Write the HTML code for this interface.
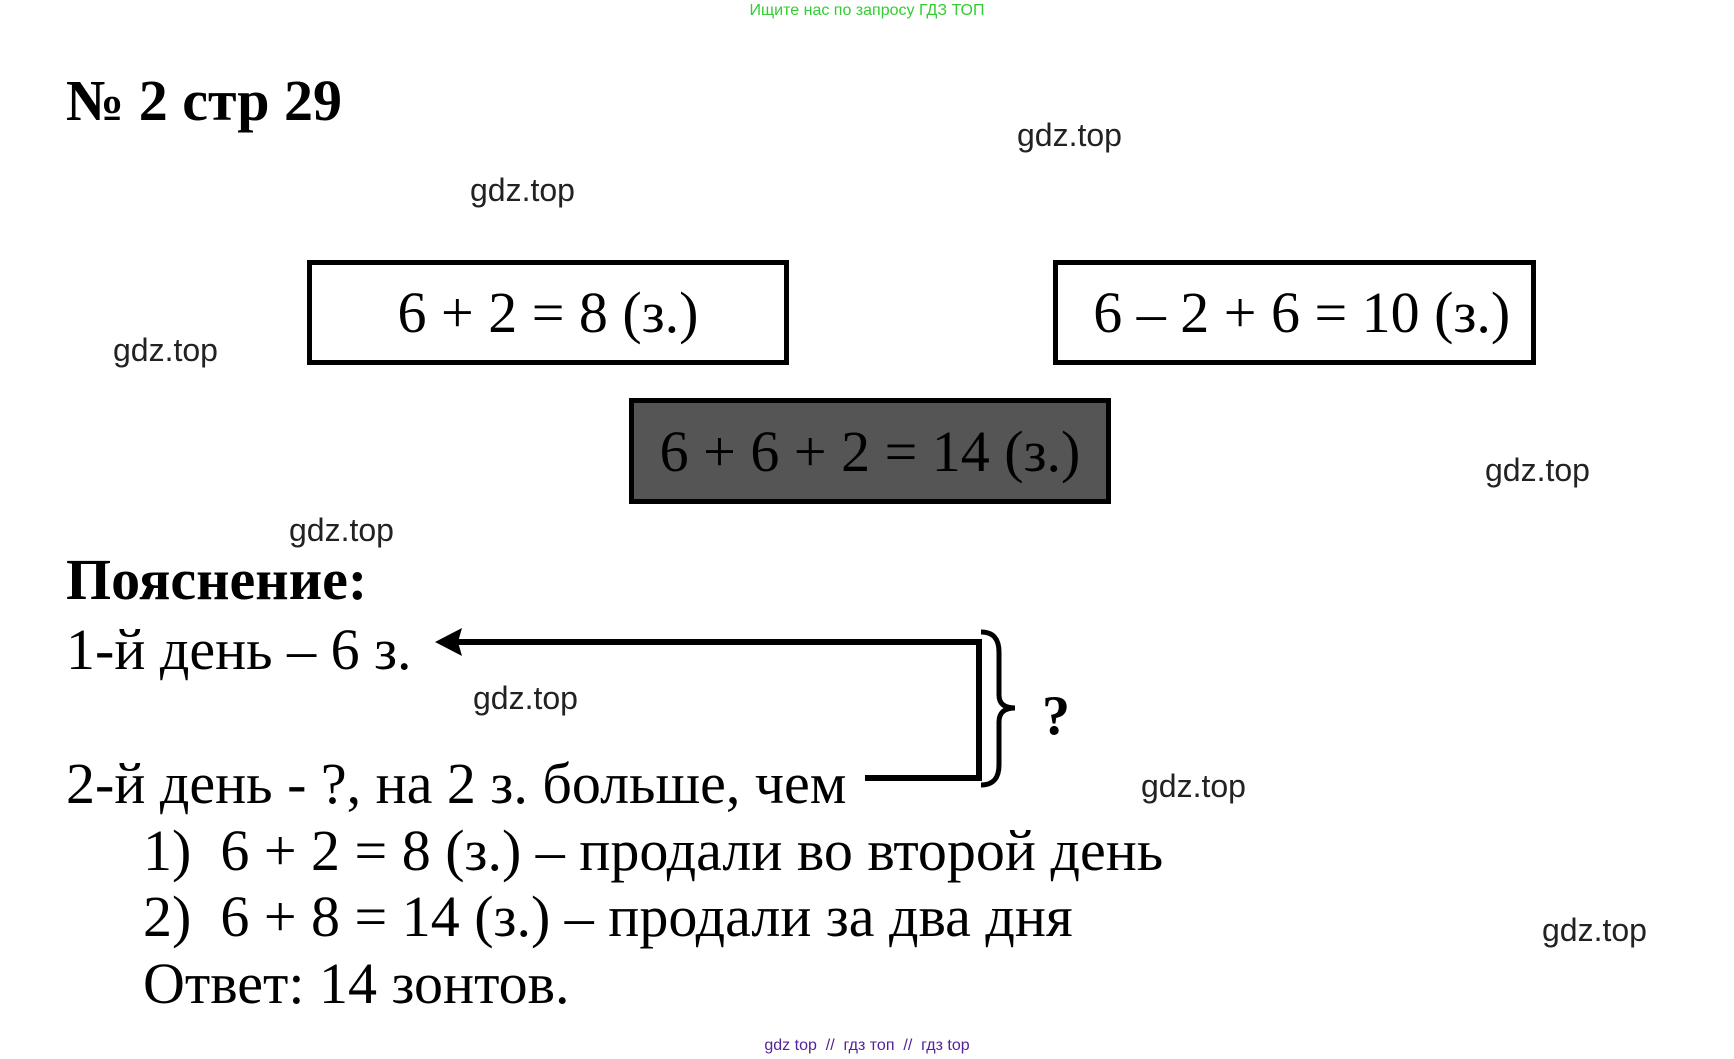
<!DOCTYPE html>
<html><head><meta charset="utf-8"><style>
body{margin:0;width:1734px;height:1059px;background:#fff;position:relative;overflow:hidden;font-family:"Liberation Serif","DejaVu Serif",serif;}
.a{position:absolute;white-space:nowrap;line-height:1;}
.g{position:absolute;font-family:"Liberation Sans",sans-serif;font-size:32px;color:#222;line-height:1;transform:translateY(-50%);}
.s{font-size:58px;transform:translateY(-50%);}
.box{position:absolute;border:5px solid #000;box-sizing:border-box;display:flex;align-items:center;justify-content:center;font-size:58px;}
</style></head><body>
<div class="a" style="left:0;width:1734px;text-align:center;top:3px;font-family:'Liberation Sans',sans-serif;font-size:16px;color:#3c3">Ищите нас по запросу ГДЗ ТОП</div>
<div class="a s" style="left:66px;top:101px;font-weight:bold;font-size:58px">№ 2 стр 29</div>
<div class="g" style="left:470px;top:190px">gdz.top</div>
<div class="g" style="left:1017px;top:135px">gdz.top</div>
<div class="g" style="left:113px;top:350px">gdz.top</div>
<div class="g" style="left:1485px;top:470px">gdz.top</div>
<div class="g" style="left:289px;top:530px">gdz.top</div>
<div class="g" style="left:473px;top:698px">gdz.top</div>
<div class="g" style="left:1141px;top:786px">gdz.top</div>
<div class="g" style="left:1542px;top:930px">gdz.top</div>
<div class="box" style="left:307px;top:260px;width:482px;height:105px">6 + 2 = 8 (з.)</div>
<div class="box" style="left:1053px;top:260px;width:483px;height:105px">&nbsp;6 – 2 + 6 = 10 (з.)</div>
<div class="box" style="left:629px;top:398px;width:482px;height:106px;background:#555">6 + 6 + 2 = 14 (з.)</div>
<div class="a s" style="left:66px;top:580px;font-weight:bold">Пояснение:</div>
<div class="a s" style="left:66px;top:650px">1-й день – 6 з.</div>
<div class="a s" style="left:66px;top:784px">2-й день - ?, на 2 з. больше, чем</div>
<div class="a s" style="left:143px;top:851px">1)&nbsp; 6 + 2 = 8 (з.) – продали во второй день</div>
<div class="a s" style="left:143px;top:917px">2)&nbsp; 6 + 8 = 14 (з.) – продали за два дня</div>
<div class="a s" style="left:143px;top:984px">Ответ: 14 зонтов.</div>
<div class="a" style="left:1042px;top:716px;transform:translateY(-50%);font-size:56px;font-weight:bold">?</div>
<svg style="position:absolute;left:0;top:0" width="1734" height="1059">
<polyline points="452,642 979,642 979,778 865,778" fill="none" stroke="#000" stroke-width="6"/>
<polygon points="435,642 462,628 458,642 462,656" fill="#000"/>
<path d="M981,632 Q999,632 999,652 L999,695 Q999,708 1015,708 Q999,708 999,722 L999,765 Q999,785 981,785" fill="none" stroke="#000" stroke-width="5"/>
</svg>
<div class="a" style="left:0;width:1734px;text-align:center;top:1038px;font-family:'Liberation Sans',sans-serif;font-size:16px;color:#529">gdz top&nbsp; //&nbsp; гдз топ&nbsp; //&nbsp; гдз top</div>
</body></html>
